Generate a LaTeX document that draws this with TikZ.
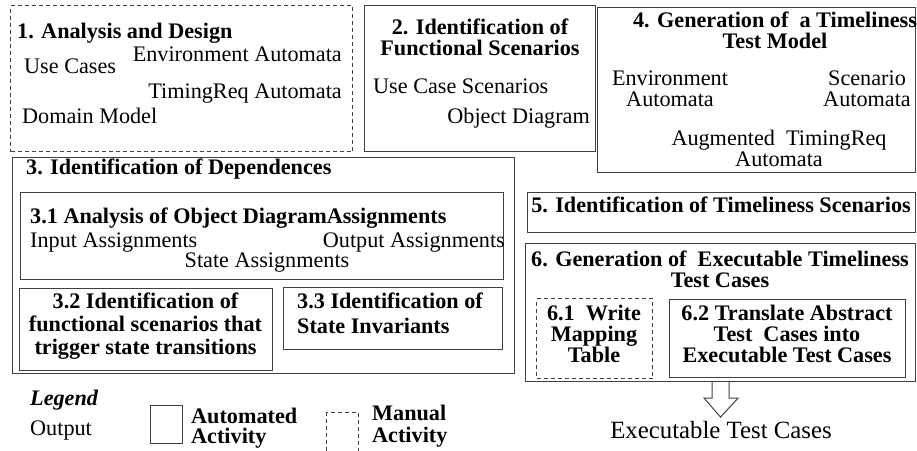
\documentclass[tikz,border=0pt]{standalone}
\usepackage{fontspec}
\setmainfont{Liberation Serif}
\begin{document}
\begin{tikzpicture}[x=1pt,y=-1pt,
  sbox/.style={draw=black!75,line width=1.1pt,inner sep=0,anchor=north west},
  dbox/.style={draw=black!75,line width=1pt,dash pattern=on 4pt off 3pt,inner sep=0,anchor=north west},
  txt/.style={inner sep=0,font=\fontsize{22.2}{21}\selectfont},
  btxt/.style={inner sep=0,font=\fontsize{22.2}{21}\selectfont\bfseries},
  ctxt/.style={btxt,align=center,anchor=base},
  otxt/.style={inner sep=0,font=\fontsize{24.8}{26}\selectfont}]
\useasboundingbox (0,0) rectangle (917,450);
% box 1
\node[dbox,minimum width=342,minimum height=146] (b1) at (10,5) {};
\node[btxt,anchor=base west] (t1) at (17,38) {1. Analysis and Design};
\node[txt,anchor=base west] (uc) at (24,73) {Use Cases};
\node[txt,anchor=base east] (ea) at (342,61) {Environment Automata};
\node[txt,anchor=base east] (tra) at (342,98) {TimingReq Automata};
\node[txt,anchor=base west] (dm) at (22,123) {Domain Model};
% box 2
\node[sbox,minimum width=231,minimum height=146] (b2) at (364,5) {};
\node[ctxt] (t2) at (480,55) {2. Identification of\\ Functional Scenarios};
\node[txt,anchor=base west] (ucs) at (373,93) {Use Case Scenarios};
\node[txt,anchor=base east] (od) at (590,123) {Object Diagram};
% box 4
\node[sbox,minimum width=318,minimum height=165] (b4) at (597,7) {};
\node[ctxt] (t4) at (775,48) {4. Generation of\ \ a Timeliness\\ Test Model};
\node[txt,align=center,anchor=base] (ea4) at (670,106) {Environment\\ Automata};
\node[txt,align=center,anchor=base] (sa4) at (867,106) {Scenario\\ Automata};
\node[txt,align=center,anchor=base] (ata4) at (779,166) {Augmented\ \ TimingReq\\ Automata};
% box 3
\node[sbox,minimum width=502,minimum height=216] (b3) at (12,157) {};
\node[btxt,anchor=base west] (t3) at (26,174) {3. Identification of Dependences};
\node[sbox,minimum width=483,minimum height=87] (b31) at (20,192) {};
\node[btxt,anchor=base west] (t31) at (30,223) {3.1 Analysis of Object DiagramAssignments};
\node[txt,anchor=base west] (ia) at (30,247) {Input Assignments};
\node[txt,anchor=base east] (oa) at (505,247) {Output Assignments};
\node[txt,anchor=base] (sta) at (267,267) {State Assignments};
\node[sbox,minimum width=253,minimum height=82] (b32) at (19,288) {};
\node[btxt,align=center,anchor=base,font=\fontsize{22.2}{23}\selectfont\bfseries] (t32) at (145.5,354) {3.2 Identification of\\ functional scenarios that\\ trigger state transitions};
\node[sbox,minimum width=219,minimum height=62] (b33) at (283,287) {};
\node[btxt,align=left,anchor=base west,font=\fontsize{22.2}{25}\selectfont\bfseries] (t33) at (297,333) {3.3 Identification of\\ State Invariants};
% box 5
\node[sbox,minimum width=388,minimum height=40] (b5) at (527,192) {};
\node[btxt,anchor=base] (t5) at (721,212) {5. Identification of Timeliness Scenarios};
% box 6
\node[sbox,minimum width=390,minimum height=138] (b6) at (525,243) {};
\node[ctxt] (t6) at (720,287) {6. Generation of\ \ Executable Timeliness\\ Test Cases};
\node[dbox,minimum width=116,minimum height=80] (b61) at (536,298) {};
\node[ctxt] (t61) at (594,362) {6.1\ \ Write\\ Mapping\\ Table};
\node[sbox,minimum width=236,minimum height=78] (b62) at (669,299) {};
\node[ctxt] (t62) at (787,362) {6.2 Translate Abstract\\ Test\ \ Cases into\\ Executable Test Cases};
% output
\node[otxt,anchor=base] (out) at (721,438) {Executable Test Cases};
\draw[draw=black!75,line width=1pt,fill=white,line join=miter]
  ([xshift=-8.5pt]b6.south) -- ++(0,16) -- ++(-8,0) -- ([yshift=-35pt]b6.south)
  -- ([xshift=17.5pt,yshift=-16pt]b6.south) -- ([xshift=8.5pt,yshift=-16pt]b6.south) -- ([xshift=8.5pt]b6.south);
% legend
\node[inner sep=0,anchor=base west,font=\fontsize{22.2}{21}\selectfont\bfseries\itshape] (lg) at (30,405) {Legend};
\node[txt,anchor=base west] (lo) at (30,435) {Output};
\node[sbox,minimum width=32,minimum height=38] (la) at (150,405) {};
\node[btxt,align=left,anchor=base west,font=\fontsize{22.2}{20}\selectfont\bfseries] (lat) at (191,443) {Automated\\ Activity};
\node[dbox,minimum width=32,minimum height=42] (lm) at (326,412) {};
\node[btxt,align=left,anchor=base west,font=\fontsize{22.2}{22}\selectfont\bfseries] (lmt) at (372,442) {Manual\\ Activity};
\end{tikzpicture}
\end{document}
